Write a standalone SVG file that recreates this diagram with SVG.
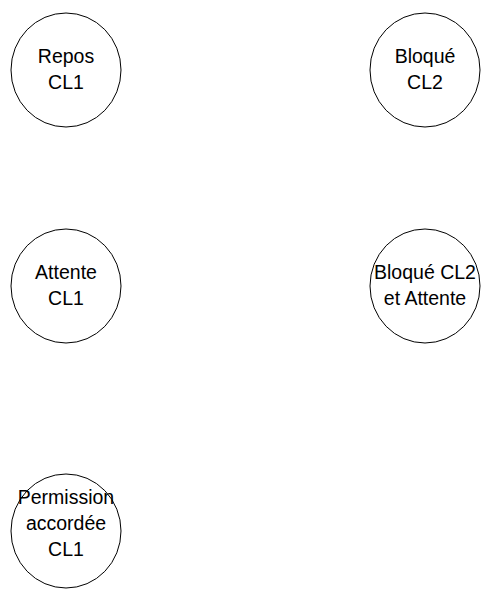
<svg xmlns="http://www.w3.org/2000/svg" width="481" height="590" viewBox="0 0 481 590">
<style>
.node ellipse{fill:#ffffff;stroke:#000000;stroke-width:1}
.node text{font-family:"Liberation Sans",Arial,Helvetica,sans-serif;font-size:19.5px;fill:#000000;text-anchor:middle}
</style>
<rect width="481" height="590" fill="#ffffff"/>
<g id="connectors"></g>
<g id="repos-cl1" class="node">
<ellipse cx="66" cy="70" rx="55" ry="57"/>
<text x="66" y="63">Repos</text>
<text x="66" y="89">CL1</text>
</g>
<g id="bloque-cl2" class="node">
<ellipse cx="425" cy="70" rx="55" ry="57"/>
<text x="425" y="63">Bloqué</text>
<text x="425" y="89">CL2</text>
</g>
<g id="attente-cl1" class="node">
<ellipse cx="66" cy="286" rx="55" ry="57"/>
<text x="66" y="279">Attente</text>
<text x="66" y="305">CL1</text>
</g>
<g id="bloque-cl2-attente" class="node">
<ellipse cx="425" cy="286" rx="55" ry="57"/>
<text x="425" y="279">Bloqué CL2</text>
<text x="425" y="305">et Attente</text>
</g>
<g id="permission-cl1" class="node">
<ellipse cx="66" cy="531" rx="55" ry="57"/>
<text x="66" y="504">Permission</text>
<text x="66" y="530">accordée</text>
<text x="66" y="556">CL1</text>
</g>
</svg>
